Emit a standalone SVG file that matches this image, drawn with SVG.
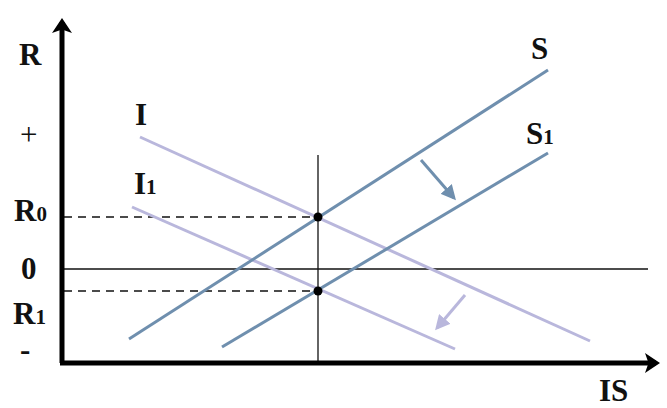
<svg xmlns="http://www.w3.org/2000/svg" width="667" height="408" viewBox="0 0 667 408">
<style>
.lbl{font-family:"Liberation Serif",serif;font-weight:bold;font-size:31px;fill:#111}
.sub{font-size:21px}
.s{stroke:#6f8fae;stroke-width:3;fill:none}
.i{stroke:#b9b7dc;stroke-width:3;fill:none}
.thin{stroke:#111;stroke-width:1.3;fill:none}
.dash{stroke:#111;stroke-width:1.3;stroke-dasharray:8 6;fill:none}
</style>
<defs>
<marker id="ax" markerWidth="4" markerHeight="4" refX="2.2" refY="2" orient="auto" markerUnits="strokeWidth"><path d="M0,0 L3,2 L0,4 L0.7,2 Z" fill="#000"/></marker>
<marker id="sa" markerWidth="5" markerHeight="5" refX="4" refY="2.5" orient="auto" markerUnits="strokeWidth"><path d="M0,0 L5,2.5 L0,5 Z" fill="#6f8fae"/></marker>
<marker id="ia" markerWidth="5" markerHeight="5" refX="4" refY="2.5" orient="auto" markerUnits="strokeWidth"><path d="M0,0 L5,2.5 L0,5 Z" fill="#b9b7dc"/></marker>
</defs>
<rect width="667" height="408" fill="#fff"/>
<g id="connectors">
<line class="thin" x1="62" y1="269" x2="648" y2="269"/>
<line class="thin" x1="318" y1="155" x2="318" y2="363"/>
<line class="dash" x1="64" y1="217" x2="318" y2="217"/>
<line class="dash" x1="64" y1="291" x2="318" y2="291"/>
<line class="i" x1="140" y1="137" x2="590" y2="341"/>
<line class="i" x1="132" y1="207" x2="455" y2="349"/>
<line class="s" x1="129" y1="339" x2="548" y2="70"/>
<line class="s" x1="222" y1="347" x2="548" y2="153"/>
<line class="s" stroke-width="2.5" x1="421" y1="160" x2="454" y2="198" marker-end="url(#sa)"/>
<line class="i" stroke-width="2.5" x1="465" y1="295" x2="437" y2="328" marker-end="url(#ia)"/>
<line stroke="#000" stroke-width="5" x1="62" y1="363" x2="62" y2="22" marker-end="url(#ax)"/>
<line stroke="#000" stroke-width="5" x1="60" y1="363" x2="656" y2="363" marker-end="url(#ax)"/>
</g>
<g id="points">
<circle cx="318" cy="217" r="4.5" fill="#000"/>
<circle cx="318" cy="291" r="4.5" fill="#000"/>
</g>
<g id="labels">
<text class="lbl" x="19" y="65">R</text>
<text class="lbl" x="20" y="145" style="font-weight:normal">+</text>
<text class="lbl" x="14" y="221">R<tspan class="sub">0</tspan></text>
<text class="lbl" x="21" y="279">0</text>
<text class="lbl" x="13" y="324">R<tspan class="sub">1</tspan></text>
<text class="lbl" x="20" y="360">-</text>
<text class="lbl" x="135" y="125">I</text>
<text class="lbl" x="134" y="194">I<tspan class="sub">1</tspan></text>
<text class="lbl" x="531" y="59">S</text>
<text class="lbl" x="526" y="144">S<tspan class="sub">1</tspan></text>
<text class="lbl" x="599" y="401">IS</text>
</g>
</svg>
